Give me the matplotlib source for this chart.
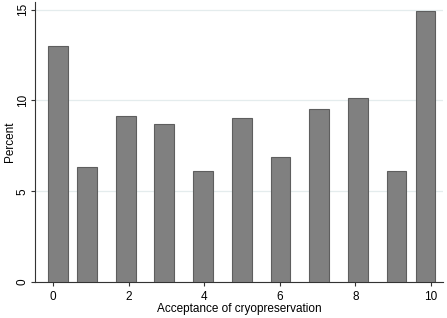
import matplotlib
matplotlib.use("Agg")
import matplotlib.pyplot as plt

# Data
bin_centers = [0.13, 0.90, 1.93, 2.94, 3.97, 5.00, 6.02, 7.04, 8.07, 9.09, 9.86]
percent = [13.02, 6.36, 9.14, 8.72, 6.12, 9.05, 6.90, 9.54, 10.15, 6.12, 14.93]
x_ticks = [0, 2, 4, 6, 8, 10]
y_ticks = [0, 5, 10, 15]
x_label = "Acceptance of cryopreservation"
y_label = "Percent"

plt.rcParams['font.family'] = ['Liberation Sans', 'DejaVu Sans']

W, H = 447, 318
fig = plt.figure(figsize=(W / 100, H / 100), dpi=100)
left, right, bottom, top = 35, 443, 282, 2
ax = fig.add_axes([left / W, 1 - bottom / H, (right - left) / W, (bottom - top) / H])

ax.bar(bin_centers, percent, width=0.51, color='#808080', edgecolor='#5e5e5e',
       linewidth=0.8, zorder=3)

ax.set_xlim(-0.476, 10.32)
ax.set_ylim(0, 15.42)
ax.set_xticks(x_ticks)
ax.set_yticks(y_ticks)
ax.yaxis.grid(True, color='#e4eced', linewidth=0.9, zorder=0)
ax.set_axisbelow(True)

for s in ['top', 'right']:
    ax.spines[s].set_visible(False)
for s in ['left', 'bottom']:
    ax.spines[s].set_color('#333333')
    ax.spines[s].set_linewidth(0.8)

ax.tick_params(axis='both', direction='out', length=3, width=0.8, color='#333333',
               labelsize=8.5)
ax.tick_params(axis='x', pad=3.5)
ax.tick_params(axis='y', pad=1.5)
plt.setp(ax.get_yticklabels(), rotation=90, va='center')
ax.set_xlabel(x_label, fontsize=8.5, labelpad=0)
ax.set_ylabel(y_label, fontsize=8.5, va='center')
ax.yaxis.set_label_coords(-25 / (right - left), 0.5)

fig.savefig("out.png", dpi=100, facecolor='white')
